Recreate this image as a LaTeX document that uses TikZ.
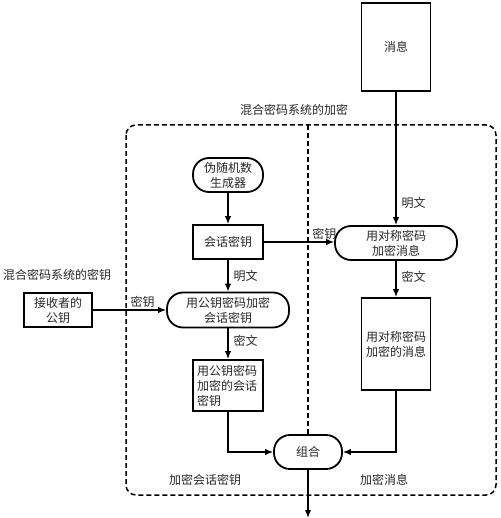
\documentclass[tikz,border=0pt]{standalone}
\usepackage{fontspec}
\setmainfont{Noto Sans CJK SC}
\usetikzlibrary{arrows.meta}
\tikzset{
  box/.style={draw,line width=1.8pt,inner sep=2pt,align=center},
  pill/.style={draw,line width=1.8pt,rounded corners=16pt,inner sep=2pt,align=center},
  flow/.style={line width=1.4pt,-{Latex[length=8pt,width=6.5pt]}},
  lbl/.style={inner sep=2pt},
  frame/.style={line width=1.5pt,dash pattern=on 5pt off 3pt}
}
\begin{document}
\begin{tikzpicture}[x=1pt,y=-1pt,every node/.style={font=\fontsize{12}{15}\selectfont,text=black!85}]
    \useasboundingbox (0,0) rectangle (500,518);
    % frame around the encryption part
    \draw [frame,rounded corners=10pt] (126,125) rectangle (496,495);
    \coordinate (top) at (308,125);
    \node (title) at (294,110) {混合密码系统的加密};
    \node (keytitle) at (57,275) {混合密码系统的密钥};
    \node (lefttag) at (205,480) {加密会话密钥};
    \node (righttag) at (384,480) {加密消息};
    % nodes
    \node [box,minimum width=69pt,minimum height=88pt] (msg) at (396,47) {消息};
    \node [pill,minimum width=70pt,minimum height=34pt] (prng) at (228,175) {伪随机数\\生成器};
    \node [box,minimum width=70pt,minimum height=34pt] (sess) at (228,242) {会话密钥};
    \node [pill,minimum width=122pt,minimum height=34pt] (sym) at (396,243) {用对称密码\\加密消息};
    \node [box,minimum width=68pt,minimum height=34pt] (recv) at (58,310) {接收者的\\公钥};
    \node [pill,minimum width=122pt,minimum height=35pt] (pub) at (228,310) {用公钥密码加密\\会话密钥};
    \node [box,minimum width=70pt,minimum height=51pt,align=left,text width=62pt] (ekey) at (228,385.5) {用公钥密码\\加密的会话\\密钥};
    \node [box,minimum width=69pt,minimum height=92pt] (emsg) at (396,344) {用对称密码\\加密的消息};
    \node [pill,minimum width=68pt,minimum height=34pt] (comb) at (308,452) {组合};
    \coordinate (out) at (308,518);
    % connectors
    \draw [frame] (top) -- (comb.north);
    \draw [flow] (msg.south) -- node [lbl,pos=.83,anchor=west,xshift=3pt] {明文} (sym.north);
    \draw [flow] (prng.south) -- (sess.north);
    \draw [flow] (sess.east) -- node [lbl,pos=.86,anchor=south] {密钥} (sess.east -| sym.west);
    \draw [flow] (sess.south) -- node [lbl,pos=.5,anchor=west,xshift=3pt] {明文} (pub.north);
    \draw [flow] (recv.east) -- node [lbl,pos=.68,anchor=south] {密钥} (pub.west);
    \draw [flow] (pub.south) -- node [lbl,pos=.4,anchor=west,xshift=3pt] {密文} (ekey.north);
    \draw [flow] (sym.south) -- node [lbl,pos=.45,anchor=west,xshift=3pt] {密文} (emsg.north);
    \draw [flow] (ekey.south) |- (comb.west);
    \draw [flow] (emsg.south) |- (comb.east);
    \draw [flow] (comb.south) -- (out);
\end{tikzpicture}
\end{document}
